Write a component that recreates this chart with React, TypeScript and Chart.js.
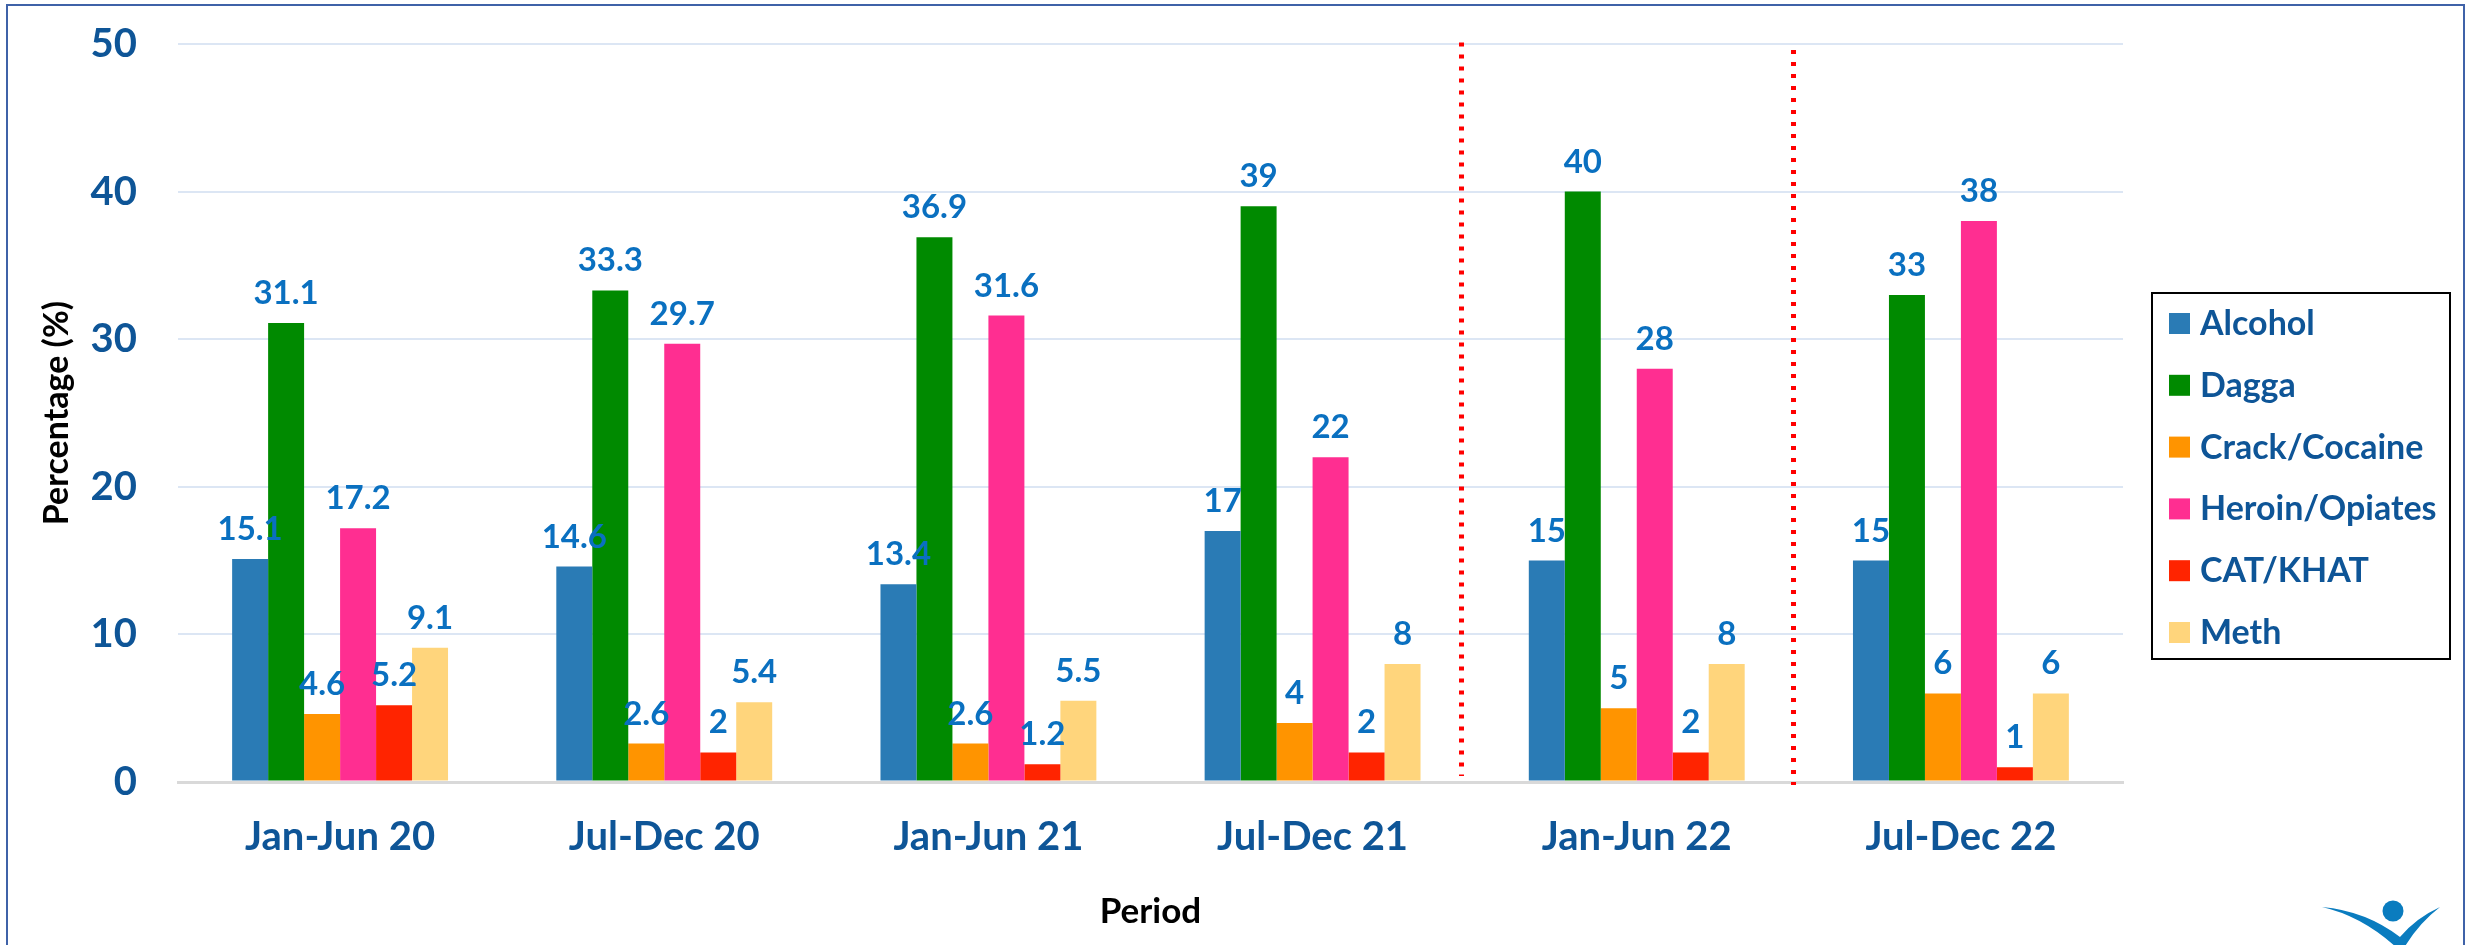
import React, { useEffect, useRef } from "react";
import { Chart, registerables } from "chart.js";

Chart.register(...registerables);

// ---- Data ----
const periods = ["Jan-Jun 20", "Jul-Dec 20", "Jan-Jun 21", "Jul-Dec 21", "Jan-Jun 22", "Jul-Dec 22"];
const seriesNames = ["Alcohol", "Dagga", "Crack/Cocaine", "Heroin/Opiates", "CAT/KHAT", "Meth"];
const alcohol = [15.1, 14.6, 13.4, 17, 15, 15];
const dagga = [31.1, 33.3, 36.9, 39, 40, 33];
const crackCocaine = [4.6, 2.6, 2.6, 4, 5, 6];
const heroinOpiates = [17.2, 29.7, 31.6, 22, 28, 38];
const catKhat = [5.2, 2, 1.2, 2, 2, 1];
const meth = [9.1, 5.4, 5.5, 8, 8, 6];
const seriesValues = [alcohol, dagga, crackCocaine, heroinOpiates, catKhat, meth];
const seriesColors = ["#2A7BB5", "#008A00", "#FF9400", "#FF2E91", "#FF2400", "#FFD57C"];
const yTicks = [0, 10, 20, 30, 40, 50];
// divider lines (category-axis positions) with their vertical extent in axis units
const dividerPositions = [3.458, 4.482];
const dividerTops = [50.1, 49.6];
const dividerBottoms = [0.4, -0.2];

const FONT = "Lato";
const TICK_COLOR = "#0E5597";
const LABEL_COLOR = "#0A70C0";

const overlayPlugin = {
  id: "overlay",
  afterDatasetsDraw(chart: any) {
    const { ctx } = chart;
    ctx.save();
    // value labels
    ctx.font = `bold 33px ${FONT}`;
    ctx.fillStyle = LABEL_COLOR;
    ctx.textAlign = "center";
    ctx.textBaseline = "alphabetic";
    chart.data.datasets.forEach((ds: any, i: number) => {
      const meta = chart.getDatasetMeta(i);
      meta.data.forEach((bar: any, j: number) => {
        ctx.fillText(String(ds.data[j]), bar.x, bar.y - 19);
      });
    });
    // dotted red dividers
    const xs = chart.scales.x;
    const ys = chart.scales.y;
    ctx.strokeStyle = "#FF0000";
    ctx.lineWidth = 5;
    ctx.setLineDash([4, 8]);
    ctx.lineCap = "butt";
    dividerPositions.forEach((p, k) => {
      const x = Math.round(xs.getPixelForValue(p)) + 0.5;
      ctx.beginPath();
      ctx.moveTo(x, ys.getPixelForValue(dividerTops[k]));
      ctx.lineTo(x, ys.getPixelForValue(dividerBottoms[k]));
      ctx.stroke();
    });
    ctx.restore();
  },
  afterDraw(chart: any) {
    const { ctx, chartArea } = chart;
    const x0 = chartArea.right + 29;
    const y0 = 293;
    const w = 298;
    const h = 366;
    ctx.save();
    ctx.fillStyle = "#FFFFFF";
    ctx.fillRect(x0, y0, w, h);
    ctx.strokeStyle = "#000000";
    ctx.lineWidth = 2;
    ctx.strokeRect(x0, y0, w, h);
    ctx.font = `bold 34px ${FONT}`;
    ctx.textAlign = "left";
    ctx.textBaseline = "alphabetic";
    chart.data.datasets.forEach((ds: any, i: number) => {
      const cy = y0 + 30 + i * 61.8;
      ctx.fillStyle = ds.backgroundColor;
      ctx.fillRect(x0 + 17, cy - 10, 21, 21);
      ctx.fillStyle = TICK_COLOR;
      ctx.fillText(ds.label, x0 + 48, cy + 12);
    });
    ctx.restore();
  },
};

export default function App() {
  const canvasRef = useRef<HTMLCanvasElement | null>(null);

  useEffect(() => {
    const canvas = canvasRef.current;
    if (!canvas) return;
    const chart = new Chart(canvas, {
      type: "bar",
      data: {
        labels: periods,
        datasets: seriesNames.map((name, i) => ({
          label: name,
          data: seriesValues[i],
          backgroundColor: seriesColors[i],
          borderWidth: 0,
          barPercentage: 1,
          categoryPercentage: 0.666,
        })),
      },
      options: {
        responsive: false,
        animation: false,
        devicePixelRatio: 1,
        layout: { padding: { top: 44, right: 343, left: 0, bottom: 0 } },
        plugins: {
          legend: { display: false },
          tooltip: { enabled: false },
        },
        scales: {
          x: {
            grid: { display: false, drawTicks: false },
            border: { display: true, color: "#D9D9D9", width: 3 },
            ticks: {
              font: { family: FONT, size: 40, weight: "bold" },
              color: TICK_COLOR,
              padding: 31,
              maxRotation: 0,
            },
            title: {
              display: true,
              text: "Period",
              font: { family: FONT, size: 35, weight: "bold" },
              color: "#000000",
              padding: { top: 0, bottom: 12 },
            },
            afterFit: (s: any) => {
              s.height = 163;
            },
          },
          y: {
            min: 0,
            max: 50,
            afterBuildTicks: (s: any) => {
              s.ticks = yTicks.map((v) => ({ value: v }));
            },
            ticks: {
              font: { family: FONT, size: 40, weight: "bold" },
              color: TICK_COLOR,
              padding: 41,
            },
            grid: {
              drawTicks: false,
              color: (c: any) => (c.tick && c.tick.value === 0 ? "#D9D9D9" : "#DCE6F4"),
              lineWidth: (c: any) => (c.tick && c.tick.value === 0 ? 3 : 2),
            },
            border: { display: false },
            title: {
              display: true,
              text: "Percentage (%)",
              font: { family: FONT, size: 34, weight: "bold" },
              color: "#000000",
              padding: { top: 37, bottom: 0 },
            },
            afterFit: (s: any) => {
              s.width = 178;
              s.paddingTop = 20;
              s.paddingBottom = 20;
            },
          },
        },
      },
      plugins: [overlayPlugin],
    });
    return () => chart.destroy();
  }, []);

  return (
    <div style={{ position: "fixed", left: 0, top: 0, width: 2466, height: 945, background: "#FFFFFF", overflow: "hidden" }}>
      <canvas ref={canvasRef} width={2466} height={945} style={{ position: "absolute", left: 0, top: 0, width: 2466, height: 945 }} />
      <div
        style={{
          position: "absolute",
          left: 6,
          top: 4,
          width: 2459,
          height: 1200,
          boxSizing: "border-box",
          border: "2px solid #3F62A8",
          pointerEvents: "none",
        }}
      />
      <svg style={{ position: "absolute", left: 2300, top: 880 }} width={166} height={65} viewBox="0 0 166 65">
        <circle cx={93} cy={31} r={10.5} fill="#0A7CBF" />
        <path d="M22,27 Q62,36 97,68 L104,68 Q118,44 140,27 Q116,38 100,57 Q66,31 22,27 Z" fill="#0A7CBF" />
      </svg>
    </div>
  );
}
